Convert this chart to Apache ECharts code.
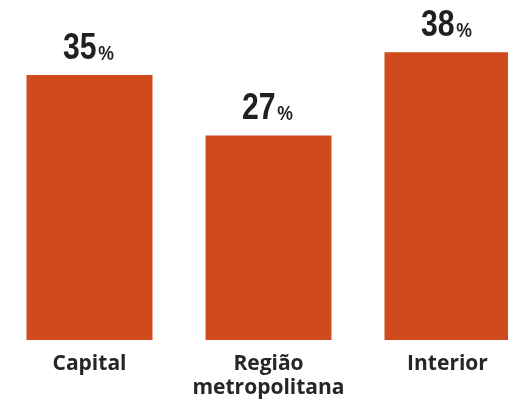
<!DOCTYPE html>
<html><head><meta charset="utf-8">
<script src="https://cdn.jsdelivr.net/npm/echarts@6/dist/echarts.min.js"></script>
<style>html,body{margin:0;padding:0;background:#fff}#c{width:508px;height:403px}</style>
</head><body><div id="c"></div>
<script>
const categories = ['Capital', 'Região\nmetropolitana', 'Interior'];
const values = [35, 27, 38];
const chart = echarts.init(document.getElementById('c'));
chart.setOption({
  animation: false,
  grid: { left: 0, width: 537, top: 37, height: 303, outerBoundsMode: 'none', containLabel: false },
  xAxis: {
    type: 'category', data: categories,
    axisLine: { show: false }, axisTick: { show: false },
    axisLabel: { interval: 0, margin: 12, color: '#262626', fontFamily: 'Open Sans', fontWeight: 'bold', fontSize: 21, lineHeight: 24 }
  },
  yAxis: { type: 'value', min: 0, max: 40, show: false, splitLine: { show: false } },
  series: [{
    type: 'bar', data: values, barWidth: 126,
    itemStyle: { color: '#D04A1E' }
  }, {
    type: 'custom', data: values, z: 10,
    renderItem: function (params, api) {
      const pt = api.coord([api.value(0), api.value(1)]);
      return {
        type: 'text', x: pt[0] - 1, y: pt[1] - 8, scaleX: 0.84, originX: 0,
        style: {
          text: '{n|' + api.value(1) + '}{p|%}',
          align: 'center', verticalAlign: 'bottom',
          rich: {
            n: { fontFamily: 'Liberation Sans', fontWeight: 'bold', fontSize: 36, fill: '#231F20', color: '#231F20' },
            p: { fontFamily: 'Liberation Sans', fontWeight: 'bold', fontSize: 21, fill: '#231F20', color: '#231F20', padding: [10, 0, 0, 2] }
          }
        }
      };
    }
  }]
});
</script></body></html>
